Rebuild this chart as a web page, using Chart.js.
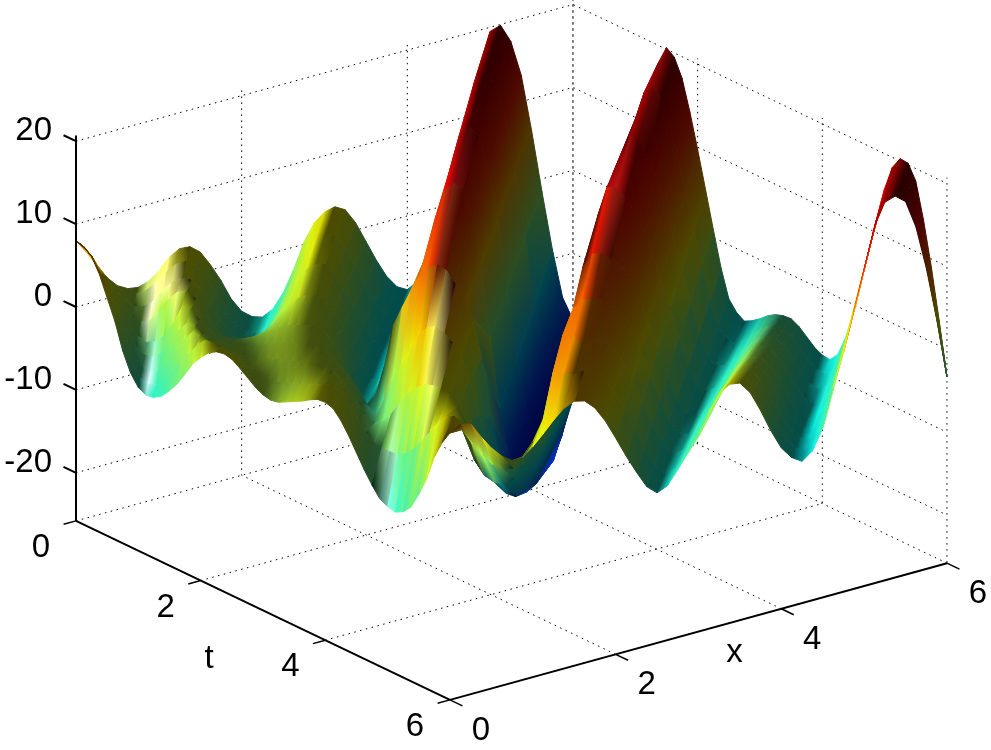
<!DOCTYPE html>
<html>
<head>
<meta charset="utf-8">
<style>
  html, body { margin: 0; padding: 0; background: #fff; }
  canvas { display: block; }
</style>
<script src="https://cdn.jsdelivr.net/npm/chart.js@4/dist/chart.umd.min.js"></script>
</head>
<body>
<canvas id="surfaceChart" width="991" height="750"></canvas>
<script>
// Tick labels
const xTicks = [0, 2, 4, 6];
const tTicks = [0, 2, 4, 6];
const zTicks = [-20, -10, 0, 10, 20];

// Surface heights, on lines of constant x + t.
// Station k is x + t = k / 8. Each array is one position across those lines
// (0 = back edge, 1 = front edge). Eight values per unit of x + t.
const stationCount = 97, stationStep = 0.125;
const across = [0, 0.15, 0.3, 0.45, 0.6, 0.7, 0.8, 0.9, 1];
const zBack = [8,6.3,4.3,2.5,1.2,0.5,0.3,0.7, 1.6,2.9,3.6,3.5,2.5,0.6,-1.6,-4.2,
  -6,-7,-7.4,-6.8,-5.2,-2.8,0.2,2.2, 3.2,3.5,2.8,0.9,-1.7,-4.3,-6.6,-8.2,
  -8.9,-8.2,-7,-4.5,-1,3,8.5,14.5, 19.5,19.9,17.6,13.2,6.2,-1.5,-8.8,-15,
  -18,-16,-13,-11,-10,-7,-4,-0.5, 3,8,13,18,20.2,19.5,17.4,13.8,
  9.7,5.4,1,-3.2,-6.5,-7.7,-8.3,-7.8, -7.1,-6.3,-5.7,-5.4,-5.3,-5.8,-6.6,-7.4,
  -7.9,-8,-6.9,-4.4,-1,3.3,7.5,11.8, 15.8,18.8,20.3,20.2,18.5,14.2,9,3, -3.3];
const z15 = [8,6.6,4.8,3,1.5,0.7,0.2,0.4, 1.1,2.1,2.9,3,2.3,0.6,-1.5,-3.9,
  -5.7,-6.8,-7.2,-6.7,-5.3,-3.2,-0.6,1.6, 2.8,3.2,2.7,1.1,-1.3,-3.8,-6.1,-7.9,
  -8.8,-8.4,-7,-4.8,-2,2,7.5,13.5, 18.3,19.2,17.5,13.5,7,-1.5,-10,-17,
  -22,-21,-18,-15,-12,-9,-6,-3, 3,10,15.5,18.8,19.6,18.8,16.5,12.8,
  8.3,4.3,0.2,-3.7,-6.7,-7.6,-7.9,-7.2, -6.4,-5.3,-4.5,-4.1,-4.1,-4.7,-5.8,-6.9,
  -7.7,-8,-7.2,-4.9,-1.7,2.7,6.8,11.2, 15.3,18.6,20.2,20.2,18.6,14.4,9.2,3.2, -3.3];
const z30 = [8,6.9,5.2,3.4,1.7,0.6,-0.6,-0.7, -0.2,0.9,1.9,2.3,2,0.8,-1,-3,
  -4.8,-5.9,-6.5,-6.2,-5,-3.2,-1,0.9, 2,2.5,2.4,1.2,-0.8,-3.1,-5.4,-7.2,
  -8.6,-8.3,-7.2,-5,-2,2,6.8,12.4, 16.5,17.5,16.2,12.3,6,-2.5,-11,-18,
  -22.5,-24.5,-23,-20,-16,-12,-8,-4, 3,13,15.7,18,17.2,15.8,13.6,10.5,
  6.9,3.1,-0.7,-4.2,-6.9,-7.6,-7.5,-6.6, -5.7,-4.3,-3.3,-2.9,-2.9,-3.7,-5,-6.4,
  -7.5,-8,-7.4,-5.4,-2.3,2,6.2,10.5, 14.8,18.3,20.2,20.2,18.7,14.7,9.5,3.3, -3.3];
const z45 = [8,7.1,5.5,3.9,2,0.5,-1.1,-1.8, -1.5,-0.4,1,1.9,2.1,1.2,-0.4,-2.2,
  -3.6,-4.3,-4.5,-4.2,-3.4,-2.2,-0.8,0.5, 1.3,1.7,1.8,1.2,-0.2,-2.2,-4.4,-6.5,
  -8.3,-8.2,-7,-4.8,-1.8,2,6.5,11, 14.5,15.5,14.8,11.3,5.5,-3,-11.5,-17,
  -20,-21,-20,-19,-17.5,-14,-10.5,-6, 0,12.6,16,16,15,13.5,11.5,8.8,
  5.5,2,-1.5,-4.7,-7,-7.5,-7.1,-6, -4.9,-3.3,-2.1,-1.6,-1.7,-2.6,-4.2,-5.9,
  -7.2,-8,-7.7,-5.9,-3,1.4,5.5,9.9, 14.3,18.1,20.1,20.2,18.8,14.9,9.7,3.5, -3.3];
const z60 = [8,7.3,6,4.3,2.2,0.4,-1.5,-2.6, -3.2,-3,-2.2,-0.6,1.5,1.5,0.3,-0.7,
  -1.2,-1.4,-1.5,-1.3,-1,-0.5,0,0.5, 0.9,1.1,1.2,1.2,0.8,-0.2,-1.8,-4,
  -7.2,-7.5,-6.2,-2.5,2.5,4.8,7,9, 10,10.5,10,8.5,6.5,4.5,0,-7,
  -12,-15,-16,-16,-15,-12,-8.5,-4, 1,11,12.5,12.5,11.8,11,9.7,7.2,
  4.1,0.8,-2.3,-5.2,-7.2,-7.4,-6.7,-5.5, -4.2,-2.3,-1,-0.4,-0.4,-1.5,-3.4,-5.4,
  -7,-7.9,-8,-6.4,-3.6,0.7,4.8,9.3, 13.8,17.8,20,20.2,18.9,15.2,9.9,3.6, -3.3];
const z70 = [8,7.4,6.3,4.6,2.4,0.3,-1.8,-3.2, -4.1,-4.1,-3.4,-2,-0.3,0.8,0.7,-0.1,
  -0.5,-0.7,-0.6,-0.5,-0.4,-0.2,0.1,0.5, 0.7,0.9,1,1.1,1.1,0.7,0.2,-0.6,
  -1.6,-3,-4.6,-5.5,-3.5,-1,1,3, 5,6.2,6.5,6,5,3.5,1,-3,
  -8,-11,-12.5,-13,-12.5,-10,-7,-3, 1.5,9,10,10,9.8,9,8,6.3,
  3.1,0.1,-2.9,-5.6,-7.3,-7.4,-6.4,-5.1, -3.7,-1.7,-0.2,0.5,0.4,-0.8,-2.8,-5,
  -6.9,-7.9,-8.2,-6.8,-4.1,0.3,4.4,8.9, 13.4,17.7,20,20.2,19,15.3,10,3.7, -3.3];
const z80 = [8,7.5,6.5,4.8,2.6,0.3,-2.1,-3.9, -5,-5.3,-4.7,-3.5,-1.9,-0.2,1,0.9,
  0.5,0.2,0.1,0.1,0.1,0.1,0.2,0.5, 0.7,0.9,1,1.2,1.3,1.4,1.4,1.2,
  0.5,-0.6,-1.7,-2.7,-3.5,-3,-1.8,-0.3, 1.2,2.2,2.9,3,3,2.4,1.5,-0.5,
  -4.5,-6.5,-7.5,-8,-7.5,-6,-3.5,-0.7, 2,9,8.5,7.5,7.8,7.6,6.6,4.8,
  2.2,-0.7,-3.4,-5.9,-7.5,-7.3,-6.1,-4.7, -3.3,-1,0.6,1.3,1.2,-0.1,-2.3,-4.7,
  -6.7,-7.9,-8.3,-7.1,-4.5,-0.1,3.9,8.4, 13.1,17.5,19.9,20.2,19.1,15.5,10.2,3.8, -3.3];
const z90 = [8,7.6,6.8,5,2.7,0.4,-2.3,-4.3, -5.6,-6,-5.6,-4.6,-3.3,-1.9,-0.5,0.8,
  1.9,2,1.9,1.7,1.4,0.9,0.5,0.3, 0.2,0.2,0.4,0.7,1,1.4,1.8,2.2,
  2.3,1.8,0.8,-0.5,-1.8,-2.7,-3,-3, -3,-2.5,-1.5,-0.2,1.2,2.7,3.8,4.2,
  3,1,-0.5,-2,-2.8,-3,-2,-0.3, 2,7.5,7,6.7,6.8,6.7,5.6,3.7,
  1.2,-1.4,-4,-6.3,-7.6,-7.3,-5.9,-4.3, -2.8,-0.4,1.4,2.2,2,0.6,-1.7,-4.3,
  -6.5,-7.9,-8.5,-7.5,-5,-0.6,3.5,8, 12.7,17.4,19.9,20.2,19.1,15.6,10.4,3.9, -3.3];
const zFront = [8,7.7,7,5.3,2.9,0.5,-2.6,-4.8, -6.1,-6.6,-6.4,-5.8,-4.7,-3.4,-1.8,-0.1,
  1.1,2.1,2.7,2.9,2.7,2.1,1.4,0.7, 0.2,0,0.2,0.7,1.2,1.7,2.3,2.8,
  2.9,2.6,1.6,0.2,-1.4,-3,-4.4,-5.6, -6.1,-6.3,-5.8,-4.8,-2.8,-0.5,2.6,4.8,
  6.4,7.1,6.8,4.9,3.2,1.9,1,1.1, 2,3.2,4.5,5.6,6.1,5.8,4.6,2.7,
  0.3,-2.2,-4.5,-6.6,-7.7,-7.2,-5.6,-3.9, -2.3,0.3,2.2,3,2.8,1.3,-1.2,-4,
  -6.4,-7.9,-8.7,-7.8,-5.4,-1,3,7.6, 12.4,17.2,19.8,20.2,19.2,15.8,10.5,4, -3.3];
const zRows = [zBack, z15, z30, z45, z60, z70, z80, z90, zFront];

// Box limits and camera
const xMax = 6, tMax = 6, zMin = -25.8, zTop = 20.7;
const boxLeft = 76, boxZero = 307;
const xStep = [82.83, -22.78], tStep = [62.33, 29.83], zStepPx = -8.29;

// Lighting, directions given as camera right / up / towards viewer
const ambient = 0.3, diffuse = 0.65, specular = 0.9, shininess = 45;
const camRight = [0.799, 0.602, 0], camUp = [0.22, -0.29, 0.93], camView = [-0.56, 0.743, 0.365];
const lightDir = [-0.97, -0.05, 0.25];
const glintDir = [-0.28, 0.62, 0.73];

function project(x, t, z) {
  return {
    x: boxLeft + xStep[0] * x + tStep[0] * t,
    y: boxZero + xStep[1] * x + tStep[1] * t + zStepPx * z
  };
}

function dot(a, b) { return a[0] * b[0] + a[1] * b[1] + a[2] * b[2]; }
function norm(a) {
  const l = Math.sqrt(dot(a, a)) || 1;
  return [a[0] / l, a[1] / l, a[2] / l];
}
function cross(a, b) {
  return [a[1] * b[2] - a[2] * b[1], a[2] * b[0] - a[0] * b[2], a[0] * b[1] - a[1] * b[0]];
}
function fromCamera(d) {
  return norm([0, 1, 2].map(k => d[0] * camRight[k] + d[1] * camUp[k] + d[2] * camView[k]));
}

const light = fromCamera(lightDir);
const glint = fromCamera(glintDir);

function surfacePoint(i, j) {
  const s = i * stationStep, r = across[j];
  const x = s <= 6 ? s * (1 - r) : 6 - (12 - s) * r;
  const t = s <= 6 ? s * r : s - 6 + (12 - s) * r;
  return { x, t, z: zRows[j][i] };
}

function world(p) {
  return [p.x / xMax, p.t / tMax, 0.666 * (p.z - zMin) / (zTop - zMin)];
}

function jet(v) {
  const ramp = c => Math.max(0, Math.min(1, 1.5 - Math.abs(4 * v - c)));
  return [ramp(3), ramp(2), ramp(1)];
}

function vertexColor(i, j) {
  const a = world(surfacePoint(Math.min(i + 2, stationCount - 1), j));
  const b = world(surfacePoint(Math.max(i - 2, 0), j));
  const c = world(surfacePoint(i, Math.min(j + 2, across.length - 1)));
  const d = world(surfacePoint(i, Math.max(j - 2, 0)));
  let n = cross([a[0] - b[0], a[1] - b[1], a[2] - b[2]], [c[0] - d[0], c[1] - d[1], c[2] - d[2]]);
  if (dot(n, n) < 1e-9) n = [0, 0, 1];
  n = norm(n);
  if (dot(n, camView) < 0) n = [-n[0], -n[1], -n[2]];
  const lit = Math.max(0, dot(n, light));
  // no glint on faces turned away from the light
  const spec = Math.pow(Math.max(0, dot(n, glint)), shininess) * Math.min(1, lit * 4);
  const base = jet((zRows[j][i] - zMin) / 46.2);
  return base.map(ch => 255 * Math.min(1, ch * (ambient + diffuse * Math.min(1, lit * 1.6)) + specular * spec));
}

// Gradient along the direction in which the four corner colours change most
function quadPaint(chart, corners) {
  const sx = chart.scales.x, sy = chart.scales.y;
  const pts = corners.map(c => ({ px: sx.getPixelForValue(c.x), py: sy.getPixelForValue(c.y), col: c.col }));
  if (!pts.every(p => isFinite(p.px) && isFinite(p.py))) return '#000';
  const lum = pts.map(p => p.col[0] + p.col[1] + p.col[2]);
  const mx = pts.reduce((m, p) => m + p.px, 0) / 4, my = pts.reduce((m, p) => m + p.py, 0) / 4;
  const ml = lum.reduce((m, l) => m + l, 0) / 4;
  let sxx = 0, sxy = 0, syy = 0, sxl = 0, syl = 0;
  pts.forEach((p, k) => {
    const dx = p.px - mx, dy = p.py - my, dl = lum[k] - ml;
    sxx += dx * dx; sxy += dx * dy; syy += dy * dy; sxl += dx * dl; syl += dy * dl;
  });
  const det = sxx * syy - sxy * sxy;
  let gx = det > 1e-6 ? (syy * sxl - sxy * syl) / det : pts[2].px - pts[0].px;
  let gy = det > 1e-6 ? (sxx * syl - sxy * sxl) / det : pts[2].py - pts[0].py;
  const len = Math.hypot(gx, gy) || 1;
  gx /= len; gy /= len;
  if (!(gx || gy)) gx = 1;
  const along = pts.map(p => (p.px - mx) * gx + (p.py - my) * gy);
  const lo = Math.min(...along), hi = Math.max(...along);
  const sAA = along.reduce((m, a) => m + a * a, 0) || 1;
  const colorAt = a => {
    const out = [0, 1, 2].map(ch => {
      const mean = pts.reduce((m, p) => m + p.col[ch], 0) / 4;
      const slope = pts.reduce((m, p, k) => m + along[k] * (p.col[ch] - mean), 0) / sAA;
      return Math.round(Math.max(0, Math.min(255, mean + slope * a)));
    });
    return `rgb(${out[0]},${out[1]},${out[2]})`;
  };
  const grad = chart.ctx.createLinearGradient(mx + gx * lo, my + gy * lo, mx + gx * hi, my + gy * hi);
  grad.addColorStop(0, colorAt(lo));
  grad.addColorStop(1, colorAt(hi));
  return grad;
}

// Build the surface cells, far ones first
const cells = [];
for (let i = 0; i < stationCount - 1; i++) {
  for (let j = 0; j < across.length - 1; j++) {
    const corners = [[i, j], [i + 1, j], [i + 1, j + 1], [i, j + 1]].map(([a, b]) => {
      const p = surfacePoint(a, b);
      const q = project(p.x, p.t, p.z);
      return { x: q.x, y: q.y, col: vertexColor(a, b), depth: dot(world(p), camView) };
    });
    cells.push({ corners, depth: corners.reduce((m, c) => m + c.depth, 0) / 4 });
  }
}
cells.sort((a, b) => a.depth - b.depth);

const datasets = [];
function addLine(points, width, dash) {
  datasets.push({
    data: points, showLine: true, fill: false, borderColor: '#000', borderWidth: width,
    borderDash: dash || [], pointRadius: 0, tension: 0
  });
}

const dots = [1.5, 4.5];
// Grid on the walls and the floor
zTicks.forEach(z => {
  addLine([project(0, 0, z), project(xMax, 0, z), project(xMax, tMax, z)], 1, dots);
});
xTicks.forEach(x => {
  addLine([project(x, tMax, zMin), project(x, 0, zMin), project(x, 0, zTop)], 1, dots);
});
tTicks.forEach(t => {
  addLine([project(0, t, zMin), project(xMax, t, zMin), project(xMax, t, zTop)], 1, dots);
});

cells.forEach(cell => {
  const pts = cell.corners.map(c => ({ x: c.x, y: c.y }));
  const paint = c => quadPaint(c.chart, cell.corners);
  datasets.push({
    data: pts.concat([pts[0]]), showLine: true, fill: 'shape', backgroundColor: paint,
    borderColor: paint, borderWidth: 1, pointRadius: 0, tension: 0
  });
});

// Axis lines and ticks
addLine([project(0, 0, zMin), project(0, 0, zTop)], 2);
addLine([project(0, 0, zMin), project(0, tMax, zMin)], 2);
addLine([project(0, tMax, zMin), project(xMax, tMax, zMin)], 2);
zTicks.forEach(z => addLine([project(0, 0, z), project(0, -0.2, z)], 2));
tTicks.forEach(t => addLine([project(0, t, zMin), project(-0.15, t, zMin)], 1.5));
xTicks.forEach(x => addLine([project(x, tMax, zMin), project(x, tMax + 0.2, zMin)], 1.5));

// Later datasets must paint over earlier ones
datasets.forEach((d, k) => { d.order = datasets.length - k; });

const axisText = {
  id: 'axisText',
  afterDraw(chart) {
    const c = chart.ctx, sx = chart.scales.x, sy = chart.scales.y;
    const put = (text, p, dx, dy, align) => {
      c.textAlign = align || 'center';
      c.fillText(text, sx.getPixelForValue(p.x) + dx, sy.getPixelForValue(p.y) + dy);
    };
    c.save();
    c.fillStyle = '#000';
    c.font = '33px "Liberation Sans", Arial, sans-serif';
    c.textBaseline = 'middle';
    zTicks.forEach(z => put(String(z), project(0, 0, z), -24, -10, 'right'));
    tTicks.forEach(t => put(String(t), project(0, t, zMin), -35, 27));
    xTicks.forEach(x => put(String(x), project(x, tMax, zMin), 31, 31));
    put('t', project(0, tMax / 2, zMin), -54, 49);
    put('x', project(xMax / 2, tMax, zMin), 36, 21);
    c.restore();
  }
};

new Chart(document.getElementById('surfaceChart'), {
  type: 'scatter',
  data: { datasets },
  options: {
    responsive: false,
    animation: false,
    events: [],
    layout: { padding: 0 },
    plugins: { legend: { display: false }, tooltip: { enabled: false } },
    scales: {
      x: { type: 'linear', min: 0, max: 991, display: false },
      y: { type: 'linear', min: 0, max: 750, reverse: true, display: false }
    }
  },
  plugins: [axisText]
});
</script>
</body>
</html>
